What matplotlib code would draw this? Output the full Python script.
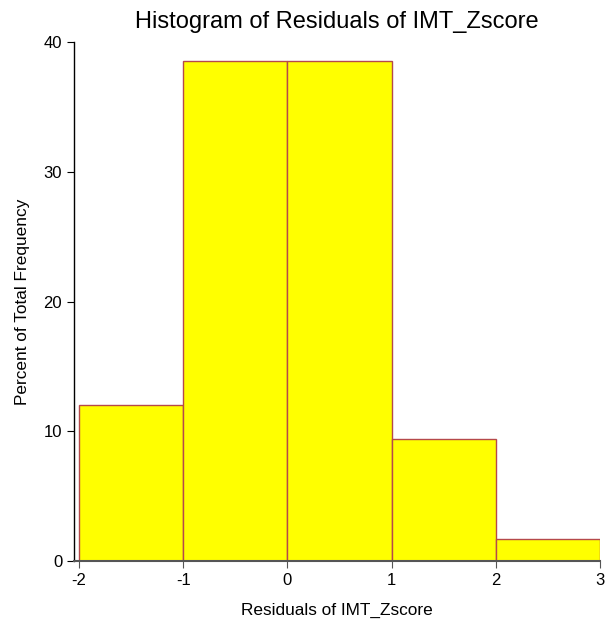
import matplotlib
matplotlib.use("Agg")
import matplotlib.pyplot as plt

bin_edges = [-2, -1, 0, 1, 2, 3]
percents = [12.0, 38.5, 38.5, 9.4, 1.7]
x_ticks = [-2, -1, 0, 1, 2, 3]
y_ticks = [0, 10, 20, 30, 40]
title = "Histogram of Residuals of IMT_Zscore"
xlabel = "Residuals of IMT_Zscore"
ylabel = "Percent of Total Frequency"

plt.rcParams['font.family'] = ['Liberation Sans', 'DejaVu Sans']

W, H = 605, 623
fig = plt.figure(figsize=(W/100, H/100), dpi=100)
ax = fig.add_axes([74/W, (H-561)/H, (600-74)/W, (561-42)/H])

lefts = bin_edges[:-1]
widths = [b - a for a, b in zip(bin_edges[:-1], bin_edges[1:])]
ax.bar(lefts, percents, width=widths, align='edge', color='#ffff00',
       edgecolor='#b5494b', linewidth=1.0, zorder=2)

ax.set_xlim(-2.048, 3)
ax.set_ylim(0, 40)
ax.set_xticks(x_ticks)
ax.set_yticks(y_ticks)
ax.set_xticklabels([str(t) for t in x_ticks])
ax.set_yticklabels([str(t) for t in y_ticks])
ax.spines['top'].set_visible(False)
ax.spines['right'].set_visible(False)
ax.spines['left'].set_color('black')
ax.spines['bottom'].set_color('#555555')
ax.spines['left'].set_linewidth(1.0)
ax.spines['bottom'].set_linewidth(1.5)
ax.tick_params(axis='both', direction='out', length=5, labelsize=12, colors='black')
ax.tick_params(axis='x', color='#555555')
ax.set_title(title, fontsize=17, pad=10)
ax.set_xlabel(xlabel, fontsize=12.4, labelpad=11)
ax.set_ylabel(ylabel, fontsize=12.4, labelpad=10)

fig.savefig("out.png", dpi=100)
